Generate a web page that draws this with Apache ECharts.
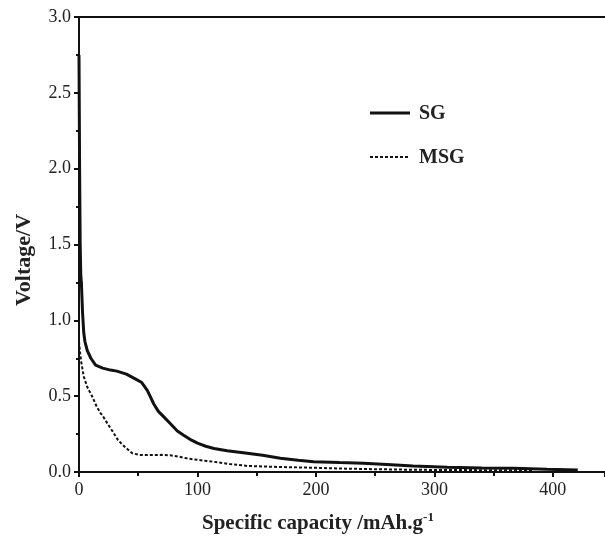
<!DOCTYPE html>
<html><head><meta charset="utf-8">
<script src="https://cdn.jsdelivr.net/npm/echarts@6/dist/echarts.min.js"></script>
<style>html,body{margin:0;padding:0;background:#fff}#c{width:605px;height:541px}</style>
</head><body><div id="c"></div>
<script>
const seriesNames = ["SG", "MSG"];
const xTicks = [0, 100, 200, 300, 400];
const yTicks = ["0.0", "0.5", "1.0", "1.5", "2.0", "2.5", "3.0"];
const sgCapacity = [0,0.5,1,1.5,2,3,4,5,7,10,14,20,26.6,32,40,49,53,57.5,60,63,67,72,77,83,88,95,100,107,114,125,142,155,170,185,198,220,240,260,282,311,340,367,395,421];
const sgVoltage  = [2.75,2.0,1.5,1.3,1.25,1.05,0.92,0.86,0.80,0.75,0.705,0.685,0.672,0.665,0.645,0.607,0.59,0.54,0.50,0.45,0.40,0.36,0.32,0.27,0.244,0.21,0.19,0.17,0.155,0.14,0.123,0.11,0.09,0.078,0.068,0.062,0.057,0.05,0.04,0.031,0.027,0.024,0.018,0.013];
const msgCapacity = [0,1,2,4,7,11,15,18,20,24,28.5,33,37,41,45,52,60,70,77,85,91,101,113,127,142,170,198,225,254,280,311,350,383];
const msgVoltage  = [0.86,0.78,0.72,0.63,0.56,0.5,0.43,0.39,0.37,0.32,0.266,0.21,0.178,0.15,0.123,0.112,0.112,0.113,0.11,0.10,0.09,0.079,0.068,0.053,0.04,0.033,0.028,0.022,0.018,0.015,0.013,0.012,0.011];

const serif = '"Liberation Serif","Times New Roman",serif';
const zip = (a, b) => a.map((v, i) => [v, b[i]]);
const chart = echarts.init(document.getElementById('c'), null, {renderer: 'canvas'});
chart.setOption({
  animation: false,
  backgroundColor: '#fff',
  grid: {left: 79, right: 0, top: 17, bottom: 69},
  xAxis: [{
    type: 'value', min: 0, max: 444, interval: 100,
    axisLine: {lineStyle: {color: '#111', width: 2}},
    axisTick: {inside: false, length: 5, lineStyle: {width: 2}},
    minorTick: {show: true, splitNumber: 2, length: 4, lineStyle: {color: '#111', width: 2}},
    splitLine: {show: false},
    axisLabel: {showMaxLabel: false, fontFamily: serif, fontSize: 18, color: '#222', margin: 9,
      formatter: v => xTicks.includes(v) ? String(v) : ''}
  }, {
    type: 'value', position: 'top', min: 0, max: 444,
    axisLine: {show: true, lineStyle: {color: '#111', width: 2}},
    axisTick: {show: false}, axisLabel: {show: false}, splitLine: {show: false}
  }],
  yAxis: {
    type: 'value', min: 0, max: 3, interval: 0.5,
    axisLine: {lineStyle: {color: '#111', width: 2}},
    axisTick: {length: 5, lineStyle: {width: 2}},
    minorTick: {show: true, splitNumber: 2, length: 3, lineStyle: {color: '#111', width: 2}},
    splitLine: {show: false},
    axisLabel: {fontFamily: serif, fontSize: 18, color: '#222', margin: 8,
      formatter: v => yTicks[Math.round(v * 2)]}
  },
  graphic: [{
    type: 'text', x: 24, y: 260, rotation: Math.PI / 2,
    style: {text: 'Voltage/V', fontFamily: serif, fontWeight: 'bold', fontSize: 22, fill: '#222',
      align: 'center', verticalAlign: 'middle'}
  }, {
    type: 'text', left: 202, top: 511,
    style: {
      text: '{b|Specific capacity /mAh.g}{s|-1}',
      rich: {
        b: {fontFamily: serif, fontWeight: 'bold', fontSize: 21, fill: '#222', verticalAlign: 'bottom'},
        s: {fontFamily: serif, fontWeight: 'bold', fontSize: 13, fill: '#222', verticalAlign: 'top', padding: [0,0,10,0]}
      }
    }
  }, {
    type: 'line', shape: {x1: 370, y1: 113, x2: 410, y2: 113},
    style: {stroke: '#111', lineWidth: 3}
  }, {
    type: 'text', x: 419, y: 114,
    style: {text: seriesNames[0], fontFamily: serif, fontWeight: 'bold', fontSize: 20, fill: '#222', verticalAlign: 'middle'}
  }, {
    type: 'line', shape: {x1: 370, y1: 157, x2: 409, y2: 157},
    style: {stroke: '#111', lineWidth: 2, lineDash: [3, 2]}
  }, {
    type: 'text', x: 419, y: 158,
    style: {text: seriesNames[1], fontFamily: serif, fontWeight: 'bold', fontSize: 20, fill: '#222', verticalAlign: 'middle'}
  }],
  series: [{
    name: seriesNames[0], type: 'line', data: zip(sgCapacity, sgVoltage),
    showSymbol: false, symbol: 'none', lineStyle: {color: '#111', width: 3}
  }, {
    name: seriesNames[1], type: 'line', data: zip(msgCapacity, msgVoltage),
    showSymbol: false, symbol: 'none', lineStyle: {color: '#111', width: 2, type: [3, 2]}
  }]
});
</script></body></html>
